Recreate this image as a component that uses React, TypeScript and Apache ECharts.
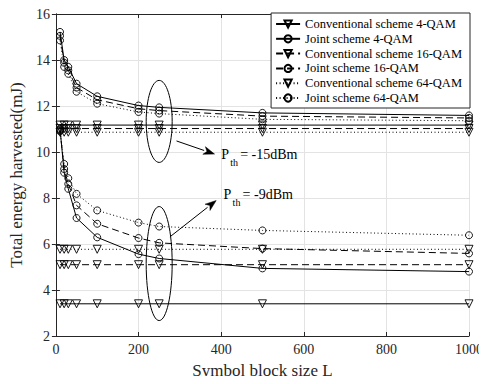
import React, { useEffect, useRef } from "react";
import * as echarts from "echarts";

// Symbol block sizes L
const blockSizes = [10, 20, 30, 50, 100, 200, 250, 500, 1000];
const xTicks = [0, 200, 400, 600, 800, 1000];
const yTicks = [2, 4, 6, 8, 10, 12, 14, 16];

const legendNames = [
  "Conventional scheme 4-QAM",
  "Joint scheme 4-QAM",
  "Conventional scheme 16-QAM",
  "Joint scheme 16-QAM",
  "Conventional scheme 64-QAM",
  "Joint scheme 64-QAM",
];

// P_th = -15 dBm
const conv4_15 = [11.17, 11.17, 11.17, 11.17, 11.17, 11.17, 11.17, 11.17, 11.17];
const joint4_15 = [15.22, 14.0, 13.7, 12.97, 12.42, 12.02, 11.94, 11.7, 11.59];
const conv16_15 = [11.02, 11.02, 11.02, 11.02, 11.02, 11.02, 11.02, 11.02, 11.02];
const joint16_15 = [15.05, 13.88, 13.55, 12.8, 12.27, 11.88, 11.8, 11.56, 11.48];
const conv64_15 = [10.86, 10.86, 10.86, 10.86, 10.86, 10.86, 10.86, 10.86, 10.86];
const joint64_15 = [14.85, 13.7, 13.4, 12.62, 12.1, 11.74, 11.67, 11.42, 11.36];

// P_th = -9 dBm
const conv4_9 = [3.4, 3.4, 3.4, 3.4, 3.4, 3.4, 3.4, 3.4, 3.4];
const joint4_9 = [11.0, 9.1, 8.4, 7.13, 6.29, 5.56, 5.37, 4.94, 4.8];
const conv16_9 = [5.1, 5.1, 5.1, 5.1, 5.1, 5.1, 5.1, 5.1, 5.1];
const joint16_9 = [10.95, 9.26, 8.61, 7.68, 6.88, 6.26, 6.05, 5.8, 5.59];
const conv64_9 = [5.77, 5.77, 5.77, 5.77, 5.77, 5.77, 5.77, 5.77, 5.77];
const joint64_9 = [10.9, 9.48, 8.86, 8.18, 7.46, 6.93, 6.76, 6.59, 6.38];

const FONT = "Liberation Serif";
const TXT = "#262626";

const lineTypes: Record<string, any> = {
  "4": "solid",
  "16": [7, 4],
  "64": [1, 2.5],
};

function makeSeries(name: string, values: number[], mod: string, conventional: boolean) {
  return {
    type: "line",
    name,
    data: blockSizes.map((x, i) => [x, values[i]]),
    symbol: conventional ? "triangle" : "circle",
    symbolRotate: conventional ? 180 : 0,
    symbolSize: conventional ? 8 : 7,
    showAllSymbol: true,
    clip: false,
    lineStyle: { color: "#000", width: 1, type: lineTypes[mod] },
    itemStyle: { color: "rgba(255,255,255,0)", borderColor: "#000", borderWidth: 0.9 },
    emphasis: { disabled: true },
    z: 3,
  };
}

export default function App() {
  const ref = useRef<HTMLDivElement>(null);
  useEffect(() => {
    if (!ref.current) return;
    const chart = echarts.init(ref.current, undefined, { renderer: "svg" });
    const axisLine = { show: true, lineStyle: { color: TXT, width: 1 } };
    const tick = { show: true, inside: true, length: 4, lineStyle: { color: TXT } };
    const label = { fontFamily: FONT, fontSize: 14, color: TXT, margin: 6, formatter: (v: number) => String(v) };
    const series = [
      makeSeries(legendNames[0], conv4_15, "4", true),
      makeSeries(legendNames[1], joint4_15, "4", false),
      makeSeries(legendNames[2], conv16_15, "16", true),
      makeSeries(legendNames[3], joint16_15, "16", false),
      makeSeries(legendNames[4], conv64_15, "64", true),
      makeSeries(legendNames[5], joint64_15, "64", false),
      makeSeries(legendNames[0], conv4_9, "4", true),
      makeSeries(legendNames[1], joint4_9, "4", false),
      makeSeries(legendNames[2], conv16_9, "16", true),
      makeSeries(legendNames[3], joint16_9, "16", false),
      makeSeries(legendNames[4], conv64_9, "64", true),
      makeSeries(legendNames[5], joint64_9, "64", false),
    ];
    chart.setOption({
      animation: false,
      backgroundColor: "#fff",
      textStyle: { fontFamily: FONT },
      grid: { left: 53, right: 18, top: 14, bottom: 46, containLabel: false },
      xAxis: [
        {
          type: "value",
          min: xTicks[0],
          max: xTicks[xTicks.length - 1],
          interval: 200,
          name: "Symbol block size L",
          nameLocation: "middle",
          nameGap: 26,
          nameTextStyle: { fontFamily: FONT, fontSize: 17, color: TXT },
          axisLine,
          axisTick: tick,
          axisLabel: label,
          splitLine: { show: true, lineStyle: { color: "#e3e3e3", width: 1 } },
        },
        {
          type: "value",
          position: "top",
          min: xTicks[0],
          max: xTicks[xTicks.length - 1],
          interval: 200,
          axisLine,
          axisTick: tick,
          axisLabel: { show: false },
          splitLine: { show: false },
        },
      ],
      yAxis: [
        {
          type: "value",
          min: yTicks[0],
          max: yTicks[yTicks.length - 1],
          interval: 2,
          name: "Total energy harvested(mJ)",
          nameLocation: "middle",
          nameGap: 27,
          nameTextStyle: { fontFamily: FONT, fontSize: 17, color: TXT },
          axisLine,
          axisTick: tick,
          axisLabel: label,
          splitLine: { show: true, lineStyle: { color: "#e3e3e3", width: 1 } },
        },
        {
          type: "value",
          position: "right",
          min: yTicks[0],
          max: yTicks[yTicks.length - 1],
          interval: 2,
          axisLine,
          axisTick: tick,
          axisLabel: { show: false },
          splitLine: { show: false },
        },
      ],
      legend: {
        data: legendNames,
        orient: "vertical",
        right: 17,
        top: 13,
        itemWidth: 24,
        itemHeight: 9,
        itemGap: 0.8,
        padding: [4, 8, 3, 4],
        backgroundColor: "#fff",
        borderColor: TXT,
        borderWidth: 1,
        borderRadius: 0,
        textStyle: { fontFamily: FONT, fontSize: 12.5, color: "#000", lineHeight: 14 },
        selectedMode: false,
        z: 10,
      },
      series,
    });

    // annotations positioned from data coordinates
    const px = (x: number, y: number) =>
      chart.convertToPixel({ xAxisIndex: 0, yAxisIndex: 0 }, [x, y]) as number[];
    const stroke = { fill: "none", stroke: "#000", lineWidth: 1 };
    const arrow = (from: number[], to: number[]) => {
      const a = px(from[0], from[1]);
      const b = px(to[0], to[1]);
      const ang = Math.atan2(b[1] - a[1], b[0] - a[0]);
      const len = 11;
      const hw = 4;
      const bx = b[0] - len * Math.cos(ang);
      const by = b[1] - len * Math.sin(ang);
      const nx = -Math.sin(ang);
      const ny = Math.cos(ang);
      return [
        { type: "line", shape: { x1: a[0], y1: a[1], x2: bx, y2: by }, style: stroke, z: 20 },
        {
          type: "polygon",
          shape: {
            points: [
              [b[0], b[1]],
              [bx + nx * hw, by + ny * hw],
              [b[0] - (len - 3) * Math.cos(ang), b[1] - (len - 3) * Math.sin(ang)],
              [bx - nx * hw, by - ny * hw],
            ],
          },
          style: { fill: "#000", stroke: "#000", lineWidth: 0.5 },
          z: 20,
        },
      ];
    };
    const e1 = px(250, 11.33);
    const e2 = px(250, 5.15);
    const t1 = px(400, 9.6);
    const t2 = px(406, 7.85);
    const pLabel = (p: number[], value: string) => [
      { type: "text", x: p[0], y: p[1], style: { text: "P", font: `14px ${FONT}`, fill: "#000", textVerticalAlign: "bottom" }, z: 20 },
      { type: "text", x: p[0] + 9, y: p[1] + 6, style: { text: "th", font: `10px ${FONT}`, fill: "#000", textVerticalAlign: "bottom" }, z: 20 },
      { type: "text", x: p[0] + 19, y: p[1], style: { text: value, font: `14px ${FONT}`, fill: "#000", textVerticalAlign: "bottom" }, z: 20 },
    ];
    chart.setOption({
      graphic: [
        { type: "ellipse", shape: { cx: e1[0], cy: e1[1], rx: 13, ry: 41 }, style: stroke, z: 20 },
        { type: "ellipse", shape: { cx: e2[0], cy: e2[1], rx: 13, ry: 57 }, style: stroke, z: 20 },
        ...arrow([292, 10.48], [384, 9.91]),
        ...arrow([276, 6.31], [388, 7.89]),
        ...pLabel(t1, "= -15dBm"),
        ...pLabel(t2, "= -9dBm"),
      ],
    });
    return () => chart.dispose();
  }, []);
  return <div ref={ref} style={{ width: 487, height: 384, margin: -8 }} />;
}
